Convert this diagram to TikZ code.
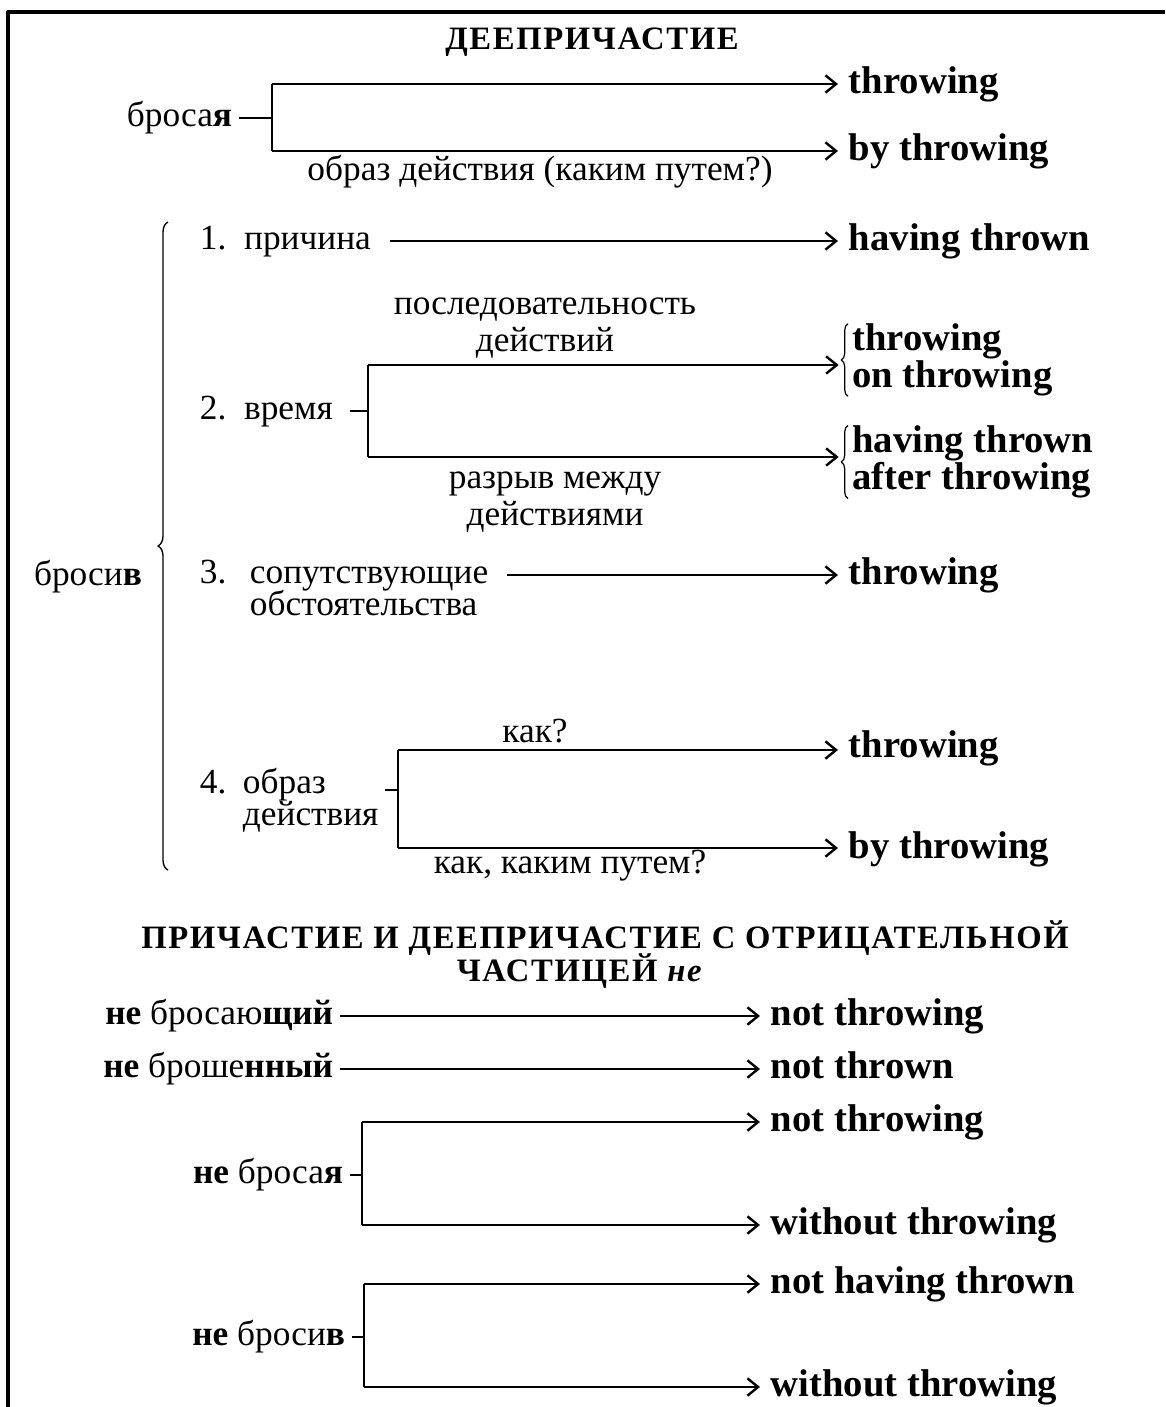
\documentclass[tikz,border=0pt]{standalone}
\usepackage{fontspec}
\setmainfont{Liberation Serif}
\newfontfamily\headfont{Liberation Serif}[LetterSpace=5]
\usetikzlibrary{arrows.meta,decorations.pathreplacing}
\tikzset{
  ru/.style={font=\fontsize{26.5pt}{25pt}\selectfont, inner xsep=5pt, inner ysep=0pt, text height=19pt, text depth=5.8pt},
  lbl/.style={font=\fontsize{26.5pt}{25pt}\selectfont, inner sep=0pt},
  en/.style={font=\fontsize{29pt}{25.5pt}\selectfont\bfseries, anchor=west, inner xsep=8pt, inner ysep=0pt, text height=21pt, text depth=6.4pt},
  enpair/.style={font=\fontsize{29pt}{25.5pt}\selectfont\bfseries, anchor=west, inner sep=0pt, align=left},
  head/.style={font=\headfont\fontsize{24.5pt}{24pt}\selectfont\bfseries, inner sep=0pt},
  ln/.style={line width=1.8pt},
  arr/.style={ln, -{Straight Barb[length=8pt,width=13pt]}},
  sbrace/.style={line width=0.9pt, decorate, decoration={brace, amplitude=5pt}},
  bigbrace/.style={line width=1pt, decorate, decoration={brace, amplitude=7.5pt}},
}
\begin{document}
\begin{tikzpicture}[x=0.75pt, y=-0.75pt, line join=round]
\def\xe{838} \def\xf{760} % arrow ends
\useasboundingbox (0,0) rectangle (1165,1407);
\draw[line width=2.5pt] (8,1407) -- (8,12) -- (1165,12);

\node[head] (t1) at (592,42) {ДЕЕПРИЧАСТИЕ};

% бросая
\node[ru, anchor=east] (b1) at (239,118) {броса\textbf{я}};
\coordinate (b1t) at (272,84);
\coordinate (b1b) at (272,151);
\node[en] (b1x) at (\xe,84) {throwing};
\node[en] (b1y) at (\xe,151) {by throwing};
\draw[ln] (b1t) -- (b1b);
\draw[ln] (b1) -- (b1 -| b1t);
\draw[arr] (b1t) -- (b1x);
\draw[arr] (b1b) -- (b1y);
\node[lbl] (b1l) at (540,172) {образ действия (каким путем?)};

% бросив
\node[ru] (b2) at (88,577) {броси\textbf{в}};
\draw[bigbrace] (168,870) -- (168,222);

% 1
\node[ru, anchor=west] (i1) at (193,241) {1.\enspace причина};
\node[en] (i1x) at (\xe,241) {having thrown};
\draw[arr, shorten <=9pt] (i1) -- (i1x);

% 2
\node[lbl] (i2u) at (545,310) {последовательность};
\node[lbl] (i2v) at (545,343) {действий};
\node[ru, anchor=west] (i2) at (193,411) {2.\enspace время};
\coordinate (i2t) at (368,365);
\coordinate (i2b) at (368,457);
\node[enpair] (i2x) at (852,360) {throwing\\on throwing};
\node[enpair] (i2y) at (852,462) {having thrown\\after throwing};
\coordinate (i2e) at ([xshift=-10pt]i2x.west);
\draw[ln] (i2t) -- (i2b);
\draw[ln, shorten <=8pt] (i2) -- (i2 -| i2t);
\draw[arr] (i2t) -- (i2t -| i2e);
\draw[arr] (i2b) -- (i2b -| i2e);
\draw[sbrace] ([xshift=-3pt]i2x.south west) -- ([xshift=-3pt]i2x.north west);
\draw[sbrace] ([xshift=-3pt]i2y.south west) -- ([xshift=-3pt]i2y.north west);
\node[lbl] (i2l) at (555,484) {разрыв между};
\node[lbl] (i2m) at (555,517) {действиями};

% 3
\node[ru, anchor=west] (i3n) at (193,575) {3.};
\node[ru, anchor=west] (i3a) at (243,575) {сопутствующие};
\node[ru, anchor=west] (i3b) at (243,607) {обстоятельства};
\node[en] (i3x) at (\xe,575) {throwing};
\draw[arr, shorten <=9pt] (i3a) -- (i3x);

% 4
\node[lbl] (i4l) at (535,731) {как?};
\node[ru, anchor=west] (i4n) at (193,785) {4.};
\node[ru, anchor=west] (i4a) at (236,785) {образ};
\node[ru, anchor=west] (i4b) at (236,817) {действия};
\coordinate (i4t) at (398,750);
\coordinate (i4d) at (398,848);
\coordinate (i4m) at (398,790);
\node[en] (i4x) at (\xe,748) {throwing};
\node[en] (i4y) at (\xe,849) {by throwing};
\draw[ln] (i4t) -- (i4d);
\draw[ln] (i4b.east |- i4m) -- (i4m);
\draw[arr] (i4t) -- (i4t -| i4x.west);
\draw[arr] (i4d) -- (i4d -| i4y.west);
\node[lbl] (i4k) at (570,866) {как, каким путем?};

\node[head] (t2) at (605,938) {ПРИЧАСТИЕ И ДЕЕПРИЧАСТИЕ С ОТРИЦАТЕЛЬНОЙ};
\node[head] (t2b) at (580,971) {ЧАСТИЦЕЙ \textit{не}};

% не ...
\node[ru, anchor=east] (n1) at (340,1016) {\textbf{не} бросаю\textbf{щий}};
\node[en] (n1x) at (\xf,1016) {not throwing};
\draw[arr] (n1) -- (n1x);
\node[ru, anchor=east] (n2) at (340,1069) {\textbf{не} броше\textbf{нный}};
\node[en] (n2x) at (\xf,1069) {not thrown};
\draw[arr] (n2) -- (n2x);

\node[ru, anchor=east] (n3) at (350,1175) {\textbf{не} броса\textbf{я}};
\coordinate (n3t) at (362,1122);
\coordinate (n3b) at (362,1225);
\node[en] (n3x) at (\xf,1122) {not throwing};
\node[en] (n3y) at (\xf,1225) {without throwing};
\draw[ln] (n3t) -- (n3b);
\draw[ln] (n3) -- (n3 -| n3t);
\draw[arr] (n3t) -- (n3x);
\draw[arr] (n3b) -- (n3y);

\node[ru, anchor=east] (n4) at (352,1337) {\textbf{не} броси\textbf{в}};
\coordinate (n4t) at (364,1284);
\coordinate (n4b) at (364,1387);
\node[en] (n4x) at (\xf,1284) {not having thrown};
\node[en] (n4y) at (\xf,1387) {without throwing};
\draw[ln] (n4t) -- (n4b);
\draw[ln] (n4) -- (n4 -| n4t);
\draw[arr] (n4t) -- (n4x);
\draw[arr] (n4b) -- (n4y);
\end{tikzpicture}
\end{document}
